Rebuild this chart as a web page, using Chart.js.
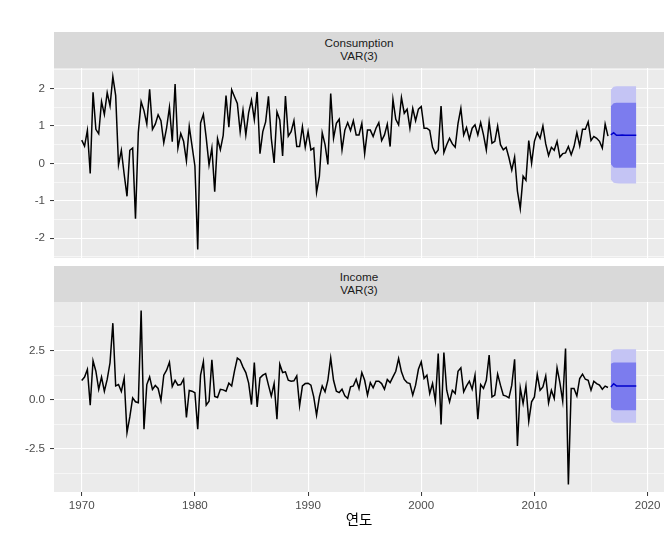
<!DOCTYPE html>
<html>
<head>
<meta charset="utf-8">
<script src="https://cdn.jsdelivr.net/npm/chart.js@4.4.1/dist/chart.umd.min.js"></script>
<style>
  body { margin: 0; background: #fff; }
  #wrap { position: relative; width: 672px; height: 537px; font-family: "Liberation Sans", Arial, sans-serif; }
  .strip { position: absolute; left: 54px; width: 610px; height: 36px; background: #D9D9D9; color: #1A1A1A;
           font-size: 11.7px; line-height: 12.6px; display: flex; flex-direction: column; justify-content: center; align-items: center; }
  .box { position: absolute; left: 0; width: 672px; }
</style>
</head>
<body>
<div id="wrap">
  <div class="strip" style="top:32px"><span>Consumption</span><span>VAR(3)</span></div>
  <div class="box" style="top:48px;height:226px"><canvas id="consChart"></canvas></div>
  <div class="strip" style="top:266px"><span>Income</span><span>VAR(3)</span></div>
  <div class="box" style="top:282px;height:255px"><canvas id="incChart"></canvas></div>
</div>
<script>
// quarterly % changes, 1970 Q1 .. 2016 Q3
const startYear = 1970;
const consumption = [
  0.62, 0.46, 0.88, -0.27, 1.90, 0.91, 0.79, 1.65, 1.31, 1.89, 1.54, 2.32,
  1.81, -0.04, 0.35, -0.29, -0.88, 0.35, 0.41, -1.48, 0.83, 1.65, 1.41, 1.05,
  1.98, 0.91, 1.05, 1.30, 1.14, 0.55, 0.95, 1.50, 0.58, 2.12, 0.41, 0.80,
  0.59, 0.07, 0.99, 0.46, -0.07, -2.30, 1.08, 1.31, 0.68, -0.04, 0.41, -0.76,
  0.66, 0.37, 0.75, 1.81, 0.97, 1.97, 1.78, 1.60, 0.84, 1.42, 0.76, 1.36,
  1.69, 1.17, 1.91, 0.26, 0.85, 1.11, 1.79, 0.67, 0.01, 1.38, 1.16, 0.20,
  1.80, 0.73, 0.85, 1.14, 0.45, 0.45, 0.98, 0.43, 0.85, 0.36, 0.41, -0.77,
  -0.34, 0.82, 0.50, -0.03, 1.87, 0.67, 1.07, 1.18, 0.36, 0.89, 1.09, 0.88,
  1.14, 0.76, 0.76, 1.07, 0.26, 0.89, 0.89, 0.72, 0.94, 1.09, 0.61, 0.76,
  1.05, 0.45, 1.71, 1.18, 1.03, 1.76, 1.34, 1.45, 0.94, 1.47, 1.14, 1.45,
  1.52, 0.94, 0.94, 0.88, 0.43, 0.26, 0.36, 1.53, 0.29, 0.50, 0.67, 0.52,
  0.43, 1.07, 1.47, 0.76, 0.96, 0.65, 0.94, 1.03, 0.76, 1.09, 0.76, 0.36,
  1.11, 0.54, 0.59, 1.00, 0.50, 0.36, 0.43, 0.15, -0.18, 0.17, -0.74, -1.21,
  -0.34, -0.45, 0.61, 0.00, 0.59, 0.82, 0.67, 1.00, 0.52, 0.21, 0.43, 0.35,
  0.59, 0.17, 0.26, 0.28, 0.45, 0.23, 0.45, 0.82, 0.47, 0.91, 0.91, 1.11,
  0.61, 0.72, 0.67, 0.59, 0.41, 1.05, 0.73
];
const income = [
  0.99, 1.16, 1.55, -0.27, 1.99, 1.46, 0.54, 1.16, 0.44, 1.04, 1.89, 3.91,
  0.71, 0.78, 0.43, 1.10, -1.67, -0.87, 0.10, -0.10, -0.15, 4.56, -1.50, 0.78,
  1.17, 0.53, 0.73, 0.58, -0.03, 1.26, 1.51, 1.92, 0.68, 0.99, 0.75, 0.78,
  1.05, -0.90, 0.48, 0.44, 0.36, -1.50, 1.26, 1.94, -0.27, -0.07, 2.04, 0.17,
  0.12, 0.54, 0.51, 0.44, 0.85, 0.71, 1.48, 2.13, 2.02, 1.67, 1.39, 0.85,
  -0.24, 1.90, -0.36, 1.12, 1.26, 1.34, 0.75, 0.19, 0.83, -0.99, 1.82, 1.39,
  1.43, 1.00, 0.95, 0.97, 1.22, -0.31, 0.71, 0.83, 0.85, 0.75, 0.15, -0.78,
  0.15, 0.71, 0.41, 1.00, 2.14, 1.00, 0.44, 0.37, 0.54, 0.20, 0.07, 0.66,
  0.71, 1.05, 0.58, 1.39, 1.00, 0.24, 0.88, 0.61, 0.95, 0.95, 0.83, 0.54,
  1.04, 0.88, 1.17, 1.46, 2.11, 1.43, 1.04, 0.88, 0.83, 0.24, 0.75, 1.56,
  1.94, 1.09, 1.26, 0.32, 0.83, -0.07, 2.36, -1.26, 2.41, 0.49, -0.10, 0.49,
  0.32, 1.46, 1.63, 0.41, 0.71, 0.95, 0.54, 1.26, -0.99, 0.78, 0.58, 1.00,
  2.28, 0.15, 0.24, 1.31, 0.75, 0.24, 0.19, 0.10, 0.75, 2.07, -2.35, 0.61,
  -0.19, 0.71, -1.09, -0.10, 0.15, 1.29, 0.49, 0.66, 1.22, -0.15, 0.49, 0.07,
  1.63, 0.88, -0.07, 2.62, -4.32, 0.58, 0.58, 0.20, 1.09, 1.31, 1.05, 1.00,
  0.49, 0.95, 0.83, 0.75, 0.54, 0.70, 0.63
];

// VAR(3) forecasts, 2016 Q4 .. 2019 Q1
const fcStart = 2016.75;
const consMean = [0.76, 0.82, 0.75, 0.75, 0.76, 0.75, 0.75, 0.75, 0.75, 0.75];
const consHi80 = [1.53, 1.61, 1.62, 1.62, 1.62, 1.62, 1.62, 1.62, 1.62, 1.62];
const consLo80 = [-0.02, -0.11, -0.12, -0.12, -0.12, -0.12, -0.12, -0.12, -0.12, -0.12];
const consHi95 = [1.97, 2.05, 2.06, 2.06, 2.06, 2.06, 2.06, 2.06, 2.06, 2.06];
const consLo95 = [-0.43, -0.52, -0.53, -0.54, -0.54, -0.54, -0.54, -0.54, -0.54, -0.54];
const incMean = [0.66, 0.82, 0.71, 0.70, 0.70, 0.70, 0.70, 0.70, 0.70, 0.70];
const incHi80 = [1.84, 1.91, 1.91, 1.91, 1.91, 1.91, 1.91, 1.91, 1.91, 1.91];
const incLo80 = [-0.38, -0.52, -0.53, -0.53, -0.53, -0.53, -0.53, -0.53, -0.53, -0.53];
const incHi95 = [2.47, 2.57, 2.58, 2.58, 2.58, 2.58, 2.58, 2.58, 2.58, 2.58];
const incLo95 = [-1.04, -1.16, -1.17, -1.17, -1.17, -1.17, -1.17, -1.17, -1.17, -1.17];

// ticks
const yearTicks = [1970, 1975, 1980, 1985, 1990, 1995, 2000, 2005, 2010, 2015, 2020];
const yearLabels = [1970, 1980, 1990, 2000, 2010, 2020];
const consTicks = [-2.5, -2, -1.5, -1, -0.5, 0, 0.5, 1, 1.5, 2, 2.5];
const consLabels = [-2, -1, 0, 1, 2];
const incTicks = [-3.75, -2.5, -1.25, 0, 1.25, 2.5, 3.75];
const incLabels = [-2.5, 0, 2.5];

const latin = '"Liberation Sans", Arial, sans-serif';

function toPoints(vals, start) {
  return vals.map((v, i) => ({ x: start + i / 4, y: v }));
}

const panelBg = {
  id: "panelBg",
  beforeDraw(chart) {
    const a = chart.chartArea;
    const c = chart.ctx;
    c.save();
    c.fillStyle = "#EBEBEB";
    c.fillRect(a.left, a.top, a.right - a.left, a.bottom - a.top);
    c.restore();
  },
};

function gridOpts(majors, drawTicks) {
  return {
    color: "#FFFFFF",
    lineWidth: (ctx) => (majors.includes(ctx.tick.value) ? 1.1 : 0.55),
    tickColor: (ctx) => (majors.includes(ctx.tick.value) ? "#333333" : "rgba(0,0,0,0)"),
    tickLength: 4,
    tickWidth: 1,
    drawTicks: drawTicks,
  };
}

function band(vals, color) {
  return {
    data: toPoints(vals, fcStart),
    borderColor: "rgba(0,0,0,0)",
    borderWidth: 0,
    pointRadius: 0,
    backgroundColor: color || "rgba(0,0,0,0)",
    fill: color ? "+1" : false,
  };
}

// layout padding is larger than any tick-label overhang, so the panel lands exactly where the box puts it
function makePanel(id, series, mean, hi80, lo80, hi95, lo95, yMin, yMax, yTicks, yLabels, fmt, showX) {
  new Chart(document.getElementById(id), {
    type: "line",
    data: {
      datasets: [
        { data: toPoints(series, startYear), borderColor: "#000000", borderWidth: 1.5, pointRadius: 0, fill: false },
        { data: toPoints(mean, fcStart), borderColor: "#0000CC", borderWidth: 1.5, pointRadius: 0, fill: false },
        band(hi80, "rgb(124,124,238)"),
        band(lo80),
        band(hi95, "rgb(196,196,244)"),
        band(lo95),
      ],
    },
    options: {
      responsive: true,
      maintainAspectRatio: false,
      animation: false,
      layout: { padding: { top: 20, bottom: showX ? 0 : 16, left: 0, right: 8 } },
      plugins: { legend: { display: false }, tooltip: { enabled: false } },
      scales: {
        x: {
          type: "linear",
          min: 1967.55,
          max: 2021.45,
          afterBuildTicks: (s) => { s.ticks = yearTicks.map((v) => ({ value: v })); },
          afterFit: (s) => { s.height = showX ? 45 : 0; },
          grid: gridOpts(yearLabels, showX),
          border: { display: false },
          ticks: {
            display: showX,
            autoSkip: false,
            maxRotation: 0,
            padding: 3,
            color: "#4D4D4D",
            font: { family: latin, size: 11.6 },
            callback: (v) => (yearLabels.includes(v) ? String(v) : ""),
          },
          title: {
            display: showX,
            text: "연도",
            color: "#000000",
            font: { family: '"Noto Sans CJK KR", sans-serif', size: 14.5 },
            padding: { top: 0, bottom: 8.6 },
          },
        },
        y: {
          min: yMin,
          max: yMax,
          afterBuildTicks: (s) => { s.ticks = yTicks.map((v) => ({ value: v })); },
          afterFit: (s) => { s.width = 54; },
          grid: gridOpts(yLabels, true),
          border: { display: false },
          ticks: {
            autoSkip: false,
            padding: 5,
            color: "#4D4D4D",
            font: { family: latin, size: 11.6 },
            callback: (v) => (yLabels.includes(v) ? fmt(v) : ""),
          },
        },
      },
    },
    plugins: [panelBg],
  });
}

makePanel("consChart", consumption, consMean, consHi80, consLo80, consHi95, consLo95,
  -2.53, 2.55, consTicks, consLabels, (v) => String(v), false);
makePanel("incChart", income, incMean, incHi80, incLo80, incHi95, incLo95,
  -4.70, 4.99, incTicks, incLabels, (v) => v.toFixed(1), true);
</script>
</body>
</html>
